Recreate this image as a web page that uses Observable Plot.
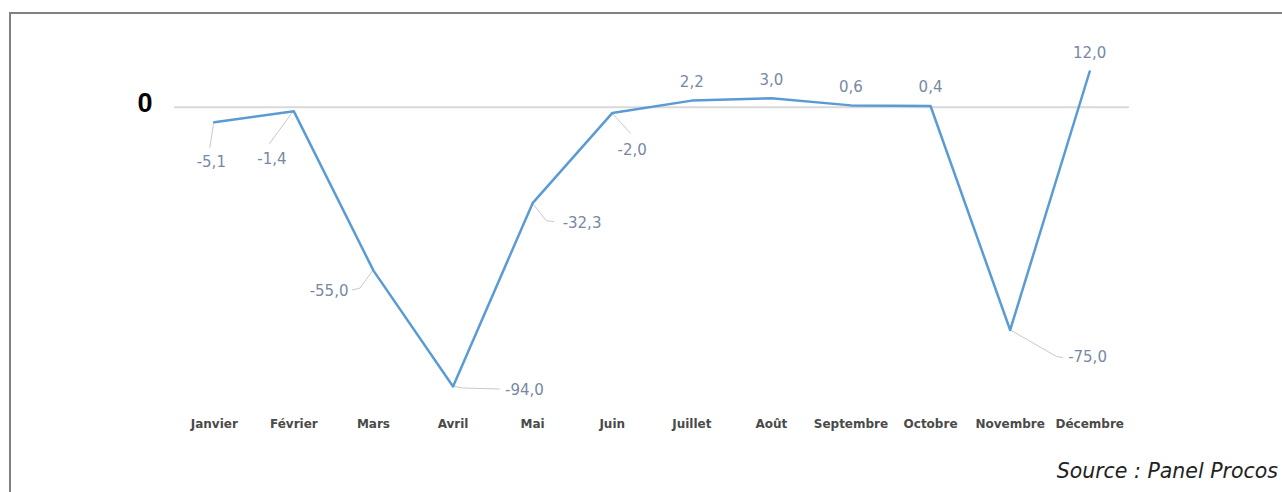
<!DOCTYPE html>
<html>
<head>
<meta charset="utf-8">
<script src="https://cdn.jsdelivr.net/npm/d3@7"></script>
<script src="https://cdn.jsdelivr.net/npm/@observablehq/plot@0.6"></script>
<style>
  html, body { margin: 0; padding: 0; background: #fff; }
  body { width: 1282px; height: 492px; overflow: hidden; position: relative; }
  #frame { position: absolute; left: 9px; top: 12px; width: 1400px; height: 600px;
           border-left: 2px solid #808080; border-top: 2px solid #808080; }
  #chart { position: absolute; left: 0; top: 0; }
  #source { position: absolute; right: 4px; top: 459px; font-family: "DejaVu Sans", sans-serif;
            font-style: italic; font-size: 20.5px; line-height: 24px; color: #222; }
</style>
</head>
<body>
<div id="frame"></div>
<div id="chart"></div>
<div id="source">Source : Panel Procos</div>
<script>
// ---- data ----
const months = ["Janvier", "Février", "Mars", "Avril", "Mai", "Juin", "Juillet", "Août", "Septembre", "Octobre", "Novembre", "Décembre"];
const growth = [-5.1, -1.4, -55.0, -94.0, -32.3, -2.0, 2.2, 3.0, 0.6, 0.4, -75.0, 12.0];
const zeroTick = [0];

// ---- label layout (pixel offsets from each point) ----
const labelDx = [-3, -22, -25, 52, 30, 20, 0, 0, 0, 0, 58, 0];
const labelDy = [40, 48, 21, 4, 20, 37, -18, -18, -18, -19, 27, -18];
const labelAnchor = ["middle", "middle", "end", "start", "start", "middle", "middle", "middle", "middle", "middle", "start", "middle"];
const leaderPaths = [
  [[0, 0], [-4, 26]],
  [[0, 0], [-24, 33]],
  [[0, 0], [-13, 18], [-21, 20]],
  [[0, 0], [10, 2], [47, 3]],
  [[0, 0], [14, 18], [22, 19]],
  [[0, 0], [19, 21]],
  null, null, null, null,
  [[0, 0], [47, 27], [53, 28]],
  null
];

const fmt = v => v.toFixed(1).replace(".", ",");
const idx = d3.range(months.length);

function leaders(index, scales) {
  const g = d3.create("svg:g").attr("fill", "none").attr("stroke", "#c9c9c9").attr("stroke-width", 1);
  idx.forEach(i => {
    const pts = leaderPaths[i];
    if (!pts) return;
    const x0 = scales.x(months[i]), y0 = scales.y(growth[i]);
    g.append("path").attr("d", d3.line()(pts.map(([dx, dy]) => [x0 + dx, y0 + dy])));
  });
  return g.node();
}

const labelMarks = idx.map(i => Plot.text([i], {
  x: j => months[j], y: j => growth[j], text: j => fmt(growth[j]),
  dx: labelDx[i], dy: labelDy[i], textAnchor: labelAnchor[i],
  fill: "#7888a3", fontSize: 15, fontFamily: "DejaVu Sans, sans-serif"
}));

const chart = Plot.plot({
  width: 1282,
  height: 492,
  marginLeft: 174,
  marginRight: 153,
  marginTop: 71,
  marginBottom: 106,
  style: { background: "transparent", overflow: "visible" },
  x: { type: "point", domain: months, padding: 0.5, round: false, axis: null },
  y: { domain: [-94, 12], axis: null },
  marks: [
    Plot.ruleY(zeroTick, { stroke: "#d9d9d9", strokeWidth: 2 }),
    leaders,
    Plot.line(idx, { x: i => months[i], y: i => growth[i], stroke: "#5b9bd5", strokeWidth: 2.5 }),
    ...labelMarks,
    Plot.text(months, { x: d => d, frameAnchor: "bottom", dy: 41, fill: "#4a4a4a", fontSize: 12, fontWeight: "bold", fontFamily: "DejaVu Sans, sans-serif" }),
    Plot.text(zeroTick, { y: d => d, frameAnchor: "left", dx: -22, dy: -4, textAnchor: "end", text: d => String(d), fill: "#000", fontSize: 27, fontWeight: "bold", fontFamily: "Liberation Sans, Arial, sans-serif" })
  ]
});
document.getElementById("chart").appendChild(chart);
</script>
</body>
</html>
